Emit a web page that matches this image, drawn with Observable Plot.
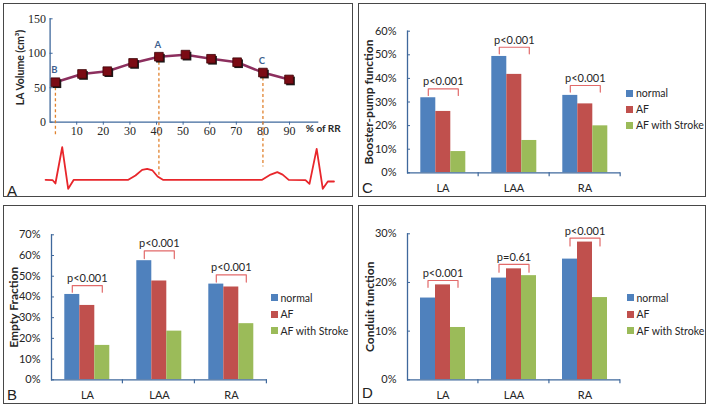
<!DOCTYPE html>
<html><head><meta charset="utf-8">
<script src="https://cdn.jsdelivr.net/npm/d3@7"></script>
<script src="https://cdn.jsdelivr.net/npm/@observablehq/plot@0.6"></script>
<style>
body{margin:0;background:#fff;}
#root{position:relative;width:708px;height:406px;overflow:hidden;background:#fff;font-family:Lato,sans-serif;}
.panel{position:absolute;box-sizing:border-box;border:1.5px solid #474747;pointer-events:none;}
.plot{position:absolute;}
.letter{position:absolute;font:15px "Liberation Sans",Arial,sans-serif;line-height:15px;color:#222;}
.lg{position:absolute;font:10.5px Lato,sans-serif;line-height:12px;color:#262626;white-space:nowrap;display:flex;align-items:center;}
.sw{width:7px;height:7px;margin-right:3px;}
</style></head>
<body><div id="root"></div>
<script>
// ---------- Panel A data ----------
const rrPct = [2.0, 12.0, 21.5, 31.2, 40.9, 50.9, 60.5, 70.3, 80.0, 89.8];
const laVolume = [58, 70, 74, 86, 95, 98, 92, 87, 72, 62];
const pointLabels = ["B", "A", "C"];
const labelledIdx = [0, 4, 8];
const dropBottom = [-21, -77, -65];
const aYTicks = [0, 50, 100, 150];
const aXTicks = [10, 20, 30, 40, 50, 60, 70, 80, 90];
const aXTitle = "% of RR";
const aYTitle = "LA Volume (cm³)";
const ecgRR = [-1.7, 0.9, 2.0, 4.55, 6.8, 8.9, 29.4, 32.1, 34.6, 36.5, 38.5, 40.4, 42.4, 79.7, 82.9, 85.4, 87.4, 89.7, 96.0, 97.5, 100.2, 102.5, 104.4, 106.7];
const ecgLevel = [-83.6, -83.9, -88.9, -36.3, -96.6, -83.6, -83.6, -77.3, -69.1, -67.6, -70, -78.8, -83.6, -83.6, -76, -72.5, -76, -83.6, -83.9, -89.4, -38.6, -96.6, -86, -86];

// ---------- Bar panels data ----------
const categories = ["LA", "LAA", "RA"];
const groups = ["normal", "AF", "AF with Stroke"];
const groupColors = ["#4f81bd", "#c0504d", "#9bbb59"];

const emptyNormal = [0.412, 0.575, 0.462];
const emptyAF = [0.359, 0.477, 0.448];
const emptyStroke = [0.166, 0.235, 0.271];
const emptyTicks = [0, 0.1, 0.2, 0.3, 0.4, 0.5, 0.6, 0.7];
const emptyP = ["p<0.001", "p<0.001", "p<0.001"];
const emptyPTop = [0.455, 0.622, 0.507];
const emptyPLeg = [0.423, 0.585, 0.472];

const boosterNormal = [0.318, 0.493, 0.328];
const boosterAF = [0.260, 0.417, 0.292];
const boosterStroke = [0.090, 0.137, 0.199];
const boosterTicks = [0, 0.1, 0.2, 0.3, 0.4, 0.5, 0.6];
const boosterP = ["p<0.001", "p<0.001", "p<0.001"];
const boosterPTop = [0.356, 0.532, 0.370];
const boosterPLeg = [0.328, 0.504, 0.342];

const conduitNormal = [0.168, 0.209, 0.248];
const conduitAF = [0.195, 0.228, 0.283];
const conduitStroke = [0.1075, 0.214, 0.169];
const conduitTicks = [0, 0.1, 0.2, 0.3];
const conduitP = ["p<0.001", "p=0.61", "p<0.001"];
const conduitPTop = [0.204, 0.237, 0.291];
const conduitPLeg = [0.190, 0.221, 0.275];

// ---------- styling ----------
const axisBlue = "#3f689c";
const textDark = "#262626";
const bracketRed = "#e26a6a";
const root = document.getElementById("root");

function place(node, box) {
  node.classList.add("plot");
  node.style.left = box.x + "px";
  node.style.top = box.y + "px";
  root.appendChild(node);
}
function frameBox(box, letter, letterTop) {
  const d = document.createElement("div");
  d.className = "panel";
  Object.assign(d.style, {left: box.x + "px", top: box.y + "px", width: box.w + "px", height: box.h + "px"});
  root.appendChild(d);
  const l = document.createElement("div");
  l.className = "letter";
  l.textContent = letter;
  l.style.left = (box.x + 4) + "px";
  l.style.top = letterTop + "px";
  root.appendChild(l);
}
function legend(x, ys) {
  groups.forEach((g, j) => {
    const r = document.createElement("div");
    r.className = "lg";
    r.style.left = x + "px";
    r.style.top = (ys[j] - 6) + "px";
    const s = document.createElement("span");
    s.className = "sw";
    s.style.background = groupColors[j];
    r.appendChild(s);
    r.appendChild(document.createTextNode(g));
    root.appendChild(r);
  });
}

// ---------- Panel A ----------
(function () {
  const box = {x: 3, y: 3, w: 350, h: 194};
  const pts = rrPct.map((x, i) => ({x, y: laVolume[i]}));
  const lab = pointLabels.map((t, k) => ({t, x: rrPct[labelledIdx[k]], y: laVolume[labelledIdx[k]], bottom: dropBottom[k]}));
  const ecg = ecgRR.map((x, i) => ({x, y: ecgLevel[i]}));
  const ml = 46.6;
  const svg = Plot.plot({
    width: box.w, height: box.h,
    marginLeft: ml, marginRight: 34.7, marginTop: 15.3, marginBottom: 75.3,
    x: {domain: [0, 101]},
    y: {domain: [0, 150]},
    style: {background: "transparent", overflow: "visible", fontFamily: "Lato, sans-serif", color: textDark},
    marks: [
      Plot.ruleY([0], {stroke: axisBlue, strokeWidth: 1.3}),
      Plot.ruleX([0], {stroke: axisBlue, strokeWidth: 1.3}),
      Plot.axisY(aYTicks, {tickSize: -3, tickPadding: 7, fontFamily: "Liberation Serif, serif", fontSize: 12, stroke: axisBlue, fill: textDark, label: null}),
      Plot.axisX(aXTicks, {tickSize: 3, tickPadding: 1, fontFamily: "Liberation Serif, serif", fontSize: 12, stroke: axisBlue, fill: textDark, label: null}),
      Plot.text([aXTitle], {text: d => d, frameAnchor: "bottom-right", textAnchor: "start", lineAnchor: "middle", dx: -13, dy: 6.5, fontWeight: "bold", fontSize: 10, fill: textDark}),
      Plot.text([aYTitle], {text: d => d, frameAnchor: "left", textAnchor: "middle", lineAnchor: "middle", rotate: -90, dx: 16.7 - ml, dy: -3, fontWeight: "bold", fontSize: 10.5, fill: textDark}),
      Plot.ruleX(lab, {x: "x", y1: "y", y2: "bottom", stroke: "#e0822e", strokeWidth: 1.3, strokeDasharray: "3,2.5"}),
      Plot.line(ecg, {x: "x", y: "y", stroke: "#e8262b", strokeWidth: 1.8}),
      Plot.line(pts, {x: "x", y: "y", stroke: "#8c2f5e", strokeWidth: 2.5}),
      Plot.dot(pts, {x: "x", y: "y", symbol: "square", r: 4.9, fill: "#1b1b1b", dx: 1.5, dy: 1.5}),
      Plot.dot(pts, {x: "x", y: "y", symbol: "square", r: 4.9, fill: "#7b0b14", stroke: "#3d0509", strokeWidth: 0.8}),
      Plot.text(lab, {x: "x", y: "y", text: "t", dy: -12, dx: -1, fill: "#3e5f8f", fontWeight: "bold", fontSize: 9.5})
    ]
  });
  place(svg, box);
  frameBox(box, "A", 182.5);
})();

// ---------- Bar panels ----------
function barChart(cfg) {
  const rows = categories.flatMap((c, i) => groups.map((g, j) => ({cat: c, grp: g, v: cfg.values[j][i]})));
  const bracket = categories.flatMap((c, i) => [
    {cat: c, grp: groups[0], y: cfg.pLeg[i]},
    {cat: c, grp: groups[0], y: cfg.pTop[i]},
    {cat: c, grp: groups[2], y: cfg.pTop[i]},
    {cat: c, grp: groups[2], y: cfg.pLeg[i]}
  ]);
  const pText = categories.map((c, i) => ({cat: c, grp: groups[1], y: cfg.pTop[i], label: cfg.pLabels[i]}));
  const m = cfg.margin;
  const outer = 0.765;
  const barStep = (cfg.box.w - m.left - m.right) / categories.length / (groups.length + 2 * outer);
  const svg = Plot.plot({
    width: cfg.box.w, height: cfg.box.h,
    marginLeft: m.left, marginRight: m.right, marginTop: m.top, marginBottom: m.bottom,
    fx: {domain: categories, padding: 0},
    x: {domain: groups, paddingInner: 0, paddingOuter: outer, axis: null},
    y: {domain: [0, cfg.yMax]},
    color: {domain: groups, range: groupColors},
    style: {background: "transparent", overflow: "visible", fontFamily: "Lato, sans-serif", color: textDark},
    marks: [
      Plot.barY(rows, {fx: "cat", x: "grp", y: "v", fill: "grp"}),
      Plot.line(bracket, {fx: "cat", x: "grp", y: "y", stroke: bracketRed, strokeWidth: 1.2}),
      Plot.text(pText, {fx: "cat", x: "grp", y: "y", text: "label", dy: -7, fill: textDark, fontSize: 11}),
      Plot.ruleY([0], {stroke: axisBlue, strokeWidth: 1.3}),
      Plot.ruleX([groups[2]], {x: d => d, y1: 0, y2: 0, insetBottom: -4, dx: barStep * (0.5 + outer), stroke: axisBlue, strokeWidth: 1.2}),
      Plot.frame({anchor: "left", facetAnchor: "left", stroke: axisBlue, strokeWidth: 1.3}),
      Plot.axisY(cfg.yTicks, {tickFormat: d3.format(".0%"), tickSize: -3, tickPadding: 14, stroke: axisBlue, fill: textDark, fontSize: 11, label: null}),
      Plot.axisFx({anchor: "bottom", label: null, tickSize: 0, tickPadding: 11, fill: textDark, fontSize: 11}),
      Plot.text([cfg.title], {text: d => d, frameAnchor: "left", facetAnchor: "left", textAnchor: "middle", lineAnchor: "middle", rotate: -90, dx: 10.5 - m.left, fontWeight: "bold", fontSize: 12, fill: textDark})
    ]
  });
  place(svg, cfg.box);
  frameBox(cfg.box, cfg.letter, cfg.letterTop);
  legend(cfg.legendX, cfg.legendY);
}

barChart({
  box: {x: 358, y: 3, w: 348, h: 194},
  margin: {left: 48.7, right: 86, top: 27.7, bottom: 24.7},
  values: [boosterNormal, boosterAF, boosterStroke],
  yMax: 0.6, yTicks: boosterTicks, title: "Booster-pump function",
  pLabels: boosterP, pTop: boosterPTop, pLeg: boosterPLeg,
  letter: "C", letterTop: 180, legendX: 626, legendY: [93, 109, 125]
});
barChart({
  box: {x: 3, y: 205, w: 350, h: 199},
  margin: {left: 47.7, right: 86.3, top: 29.3, bottom: 24.7},
  values: [emptyNormal, emptyAF, emptyStroke],
  yMax: 0.7, yTicks: emptyTicks, title: "Empty Fraction",
  pLabels: emptyP, pTop: emptyPTop, pLeg: emptyPLeg,
  letter: "B", letterTop: 387, legendX: 270.5, legendY: [297.7, 314, 330.5]
});
barChart({
  box: {x: 358, y: 205, w: 348, h: 199},
  margin: {left: 48, right: 86, top: 28.3, bottom: 24.7},
  values: [conduitNormal, conduitAF, conduitStroke],
  yMax: 0.3, yTicks: conduitTicks, title: "Conduit function",
  pLabels: conduitP, pTop: conduitPTop, pLeg: conduitPLeg,
  letter: "D", letterTop: 385, legendX: 626.5, legendY: [297.7, 314, 330.5]
});
</script>
</body></html>
